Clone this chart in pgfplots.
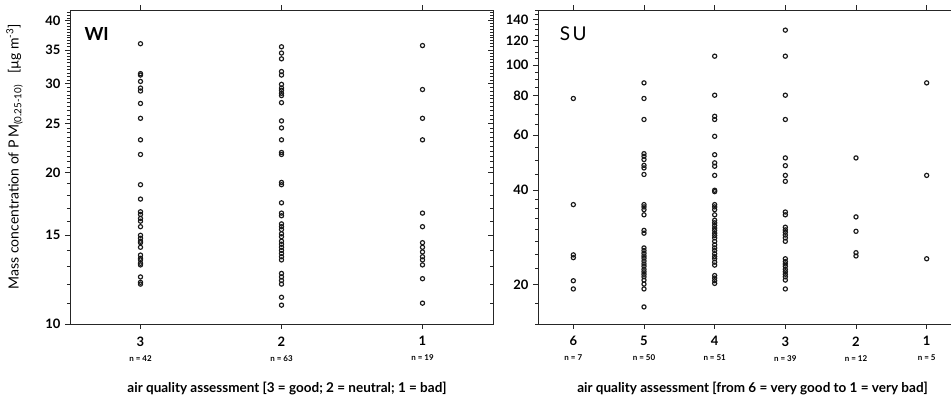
\documentclass[border=0pt]{standalone}
\usepackage{pgfplots}
\pgfplotsset{compat=1.18}
\usepackage{fontspec}
\setmainfont{Lato}

\pgfplotsset{
  mypanel/.style={
    scale only axis, height=314bp,
    axis line style={line width=0.8bp, black!85},
    tick style={black!85, line width=0.6bp},
    tick align=outside,
    major tick length=5bp, minor tick length=3bp,
    ytick pos=left, xtick pos=both,
    yticklabel style={font=\bfseries\fontsize{13bp}{13bp}\selectfont, xshift=-1bp},
    xticklabel style={align=center, font=\bfseries\fontsize{13bp}{13bp}\selectfont, yshift=-4bp},
    xlabel style={font=\bfseries\fontsize{13.5bp}{14bp}\selectfont},
    ylabel style={font=\fontsize{14bp}{15bp}\selectfont},
    clip=false,
  },
  mydots/.style={only marks, mark=o, mark size=2.1bp, mark options={line width=1.15bp, black!90}},
}
\newcommand{\nlab}[1]{\\[2bp]{\fontsize{8bp}{8bp}\selectfont #1}}

\begin{document}
\begin{tikzpicture}
\useasboundingbox (0,0) rectangle (951bp,399bp);
\clip (0,0) rectangle (951bp,399bp);

% ---------------- WI panel ----------------
\begin{axis}[mypanel, ymode=log, at={(70bp,75bp)}, anchor=south west, width=423bp,
  xmin=-0.5, xmax=2.5, ymin=10, ymax=42,
  xtick={0,1,2},
  xticklabels={{3\nlab{n = 42}},{2\nlab{n = 63}},{1\nlab{n = 19}}},
  ytick={10,15,20,25,30,35,40},
  yticklabels={10,15,20,25,30,35,40},
  minor ytick={11,12,13,14,16,17,18,19,20.5,21,21.5,22,22.5,23,23.5,24,24.5,25.5,26,26.5,27,27.5,28,28.5,29,29.5,30.5,31,31.5,32,32.5,33,33.5,34,34.5,35.5,36,36.5,37,37.5,38,38.5,39,39.5,40.5,41,41.5},
  xlabel={air quality assessment [3 = good; 2 = neutral; 1 = bad]},
  xlabel style={at={(axis description cs:0.513,-0.207)}, anchor=center},
  ylabel={Mass concentration of P\,M\textsubscript{(0.25-10)}\ \ \ [µg m\textsuperscript{-3}]},
  ylabel style={at={(axis description cs:-0.131,0.533)}, anchor=center},
]
\addplot[mydots] coordinates {
(0,36.0)(0,31.4)(0,31.2)(0,30.3)(0,29.4)(0,29.0)(0,27.4)(0,25.6)(0,23.2)(0,21.7)
(0,18.9)(0,17.7)(0,16.7)(0,16.5)(0,16.2)(0,16.0)(0,15.6)(0,15.0)(0,14.8)(0,14.6)
(0,14.5)(0,14.2)(0,13.7)(0,13.5)(0,13.4)(0,13.2)(0,13.1)(0,12.4)(0,12.1)(0,12.0)
};
\addplot[mydots] coordinates {
(1,35.5)(1,34.5)(1,33.6)(1,31.7)(1,31.2)(1,29.9)(1,29.4)(1,29.1)(1,28.7)(1,28.4)
(1,27.5)(1,25.3)(1,24.5)(1,23.2)(1,21.9)(1,21.7)(1,19.1)(1,18.9)(1,17.4)(1,16.6)
(1,16.4)(1,15.8)(1,15.6)(1,15.4)(1,15.1)(1,14.9)(1,14.6)(1,14.4)(1,14.2)(1,14.0)
(1,13.8)(1,13.6)(1,13.4)(1,12.6)(1,12.4)(1,12.2)(1,12.0)(1,11.3)(1,10.9)
};
\addplot[mydots] coordinates {
(2,35.7)(2,29.2)(2,25.6)(2,23.2)(2,16.6)(2,15.6)(2,14.5)(2,14.2)(2,13.9)(2,13.6)
(2,13.4)(2,13.1)(2,12.3)(2,11.0)
};
\node[anchor=west, font=\bfseries\fontsize{18bp}{18bp}\selectfont] at (axis description cs:0.026,0.925) {WI};
\end{axis}
% right-side inward ticks of WI panel
\begin{axis}[scale only axis, ymode=log, at={(70bp,75bp)}, anchor=south west, width=423bp, height=314bp,
  xmin=-0.5, xmax=2.5, ymin=10, ymax=42,
  axis x line=none, axis y line*=right,
  axis line style={line width=0.8bp, black!85},
  tick style={black!85, line width=0.6bp},
  tick align=inside, major tick length=5bp, minor tick length=3bp,
  ytick={10,15,20,25,30,35,40}, yticklabels={},
  minor ytick={11,12,13,14,16,17,18,19,20.5,21,21.5,22,22.5,23,23.5,24,24.5,25.5,26,26.5,27,27.5,28,28.5,29,29.5,30.5,31,31.5,32,32.5,33,33.5,34,34.5,35.5,36,36.5,37,37.5,38,38.5,39,39.5,40.5,41,41.5},
]
\addplot[draw=none] coordinates {(0,20)};
\end{axis}

% ---------------- SU panel ----------------
\begin{axis}[mypanel, ymode=log, at={(538bp,75bp)}, anchor=south west, width=424bp,
  xmin=-0.5, xmax=5.5, ymin=15, ymax=150,
  xtick={0,1,2,3,4,5},
  xticklabels={{6\nlab{n = 7}},{5\nlab{n = 50}},{4\nlab{n = 51}},{3\nlab{n = 39}},{2\nlab{n = 12}},{1\nlab{n = 5}}},
  ytick={20,40,60,80,100,120,140},
  yticklabels={20,40,60,80,100,120,140},
  minor ytick={15,17.5,22.5,25,27.5,30,32.5,35,37.5,45,50,55,65,70,75,85,90,95,105,110,115,125,130,135,145,150},
  xlabel={air quality assessment [from 6 = very good to 1 = very bad]},
  xlabel style={at={(axis description cs:0.506,-0.207)}, anchor=center},
]
\addplot[mydots] coordinates {
(0,78.4)(0,36.0)(0,24.9)(0,24.4)(0,20.6)(0,19.4)
};
\addplot[mydots] coordinates {
(1,87.9)(1,78.4)(1,67.2)(1,52.3)(1,51.3)(1,50.1)(1,48.0)(1,47.1)(1,44.9)(1,36.0)
(1,35.4)(1,34.7)(1,33.4)(1,29.8)(1,29.2)(1,26.2)(1,25.7)(1,25.2)(1,24.7)(1,24.3)
(1,23.8)(1,23.3)(1,22.9)(1,22.4)(1,22.0)(1,21.6)(1,21.2)(1,20.7)(1,20.1)(1,19.4)
(1,17.0)
};
\addplot[mydots] coordinates {
(2,106.9)(2,80.3)(2,68.8)(2,67.2)(2,59.4)(2,51.9)(2,48.9)(2,47.7)(2,44.6)(2,40.0)
(2,39.6)(2,36.0)(2,35.4)(2,34.7)(2,33.4)(2,32.1)(2,31.5)(2,30.9)(2,30.3)(2,29.8)
(2,29.2)(2,28.7)(2,28.2)(2,27.5)(2,26.8)(2,26.2)(2,25.7)(2,25.1)(2,24.6)(2,24.2)
(2,23.6)(2,23.1)(2,21.4)(2,21.0)(2,20.6)(2,20.2)
};
\addplot[mydots] coordinates {
(3,129.4)(3,106.9)(3,80.3)(3,67.2)(3,50.7)(3,47.9)(3,44.6)(3,42.7)(3,34.1)(3,33.4)
(3,30.5)(3,29.9)(3,29.4)(3,28.8)(3,28.2)(3,27.5)(3,24.2)(3,23.7)(3,23.3)(3,22.9)
(3,22.4)(3,22.0)(3,21.6)(3,21.2)(3,20.7)(3,19.4)
};
\addplot[mydots] coordinates {
(4,50.7)(4,32.9)(4,29.6)(4,25.3)(4,24.7)
};
\addplot[mydots] coordinates {
(5,87.9)(5,44.6)(5,24.2)
};
\node[anchor=west, font=\fontsize{19bp}{19bp}\selectfont] at (axis description cs:0.043,0.925) {S\kern2.5bp U};
\end{axis}
\end{tikzpicture}
\end{document}
